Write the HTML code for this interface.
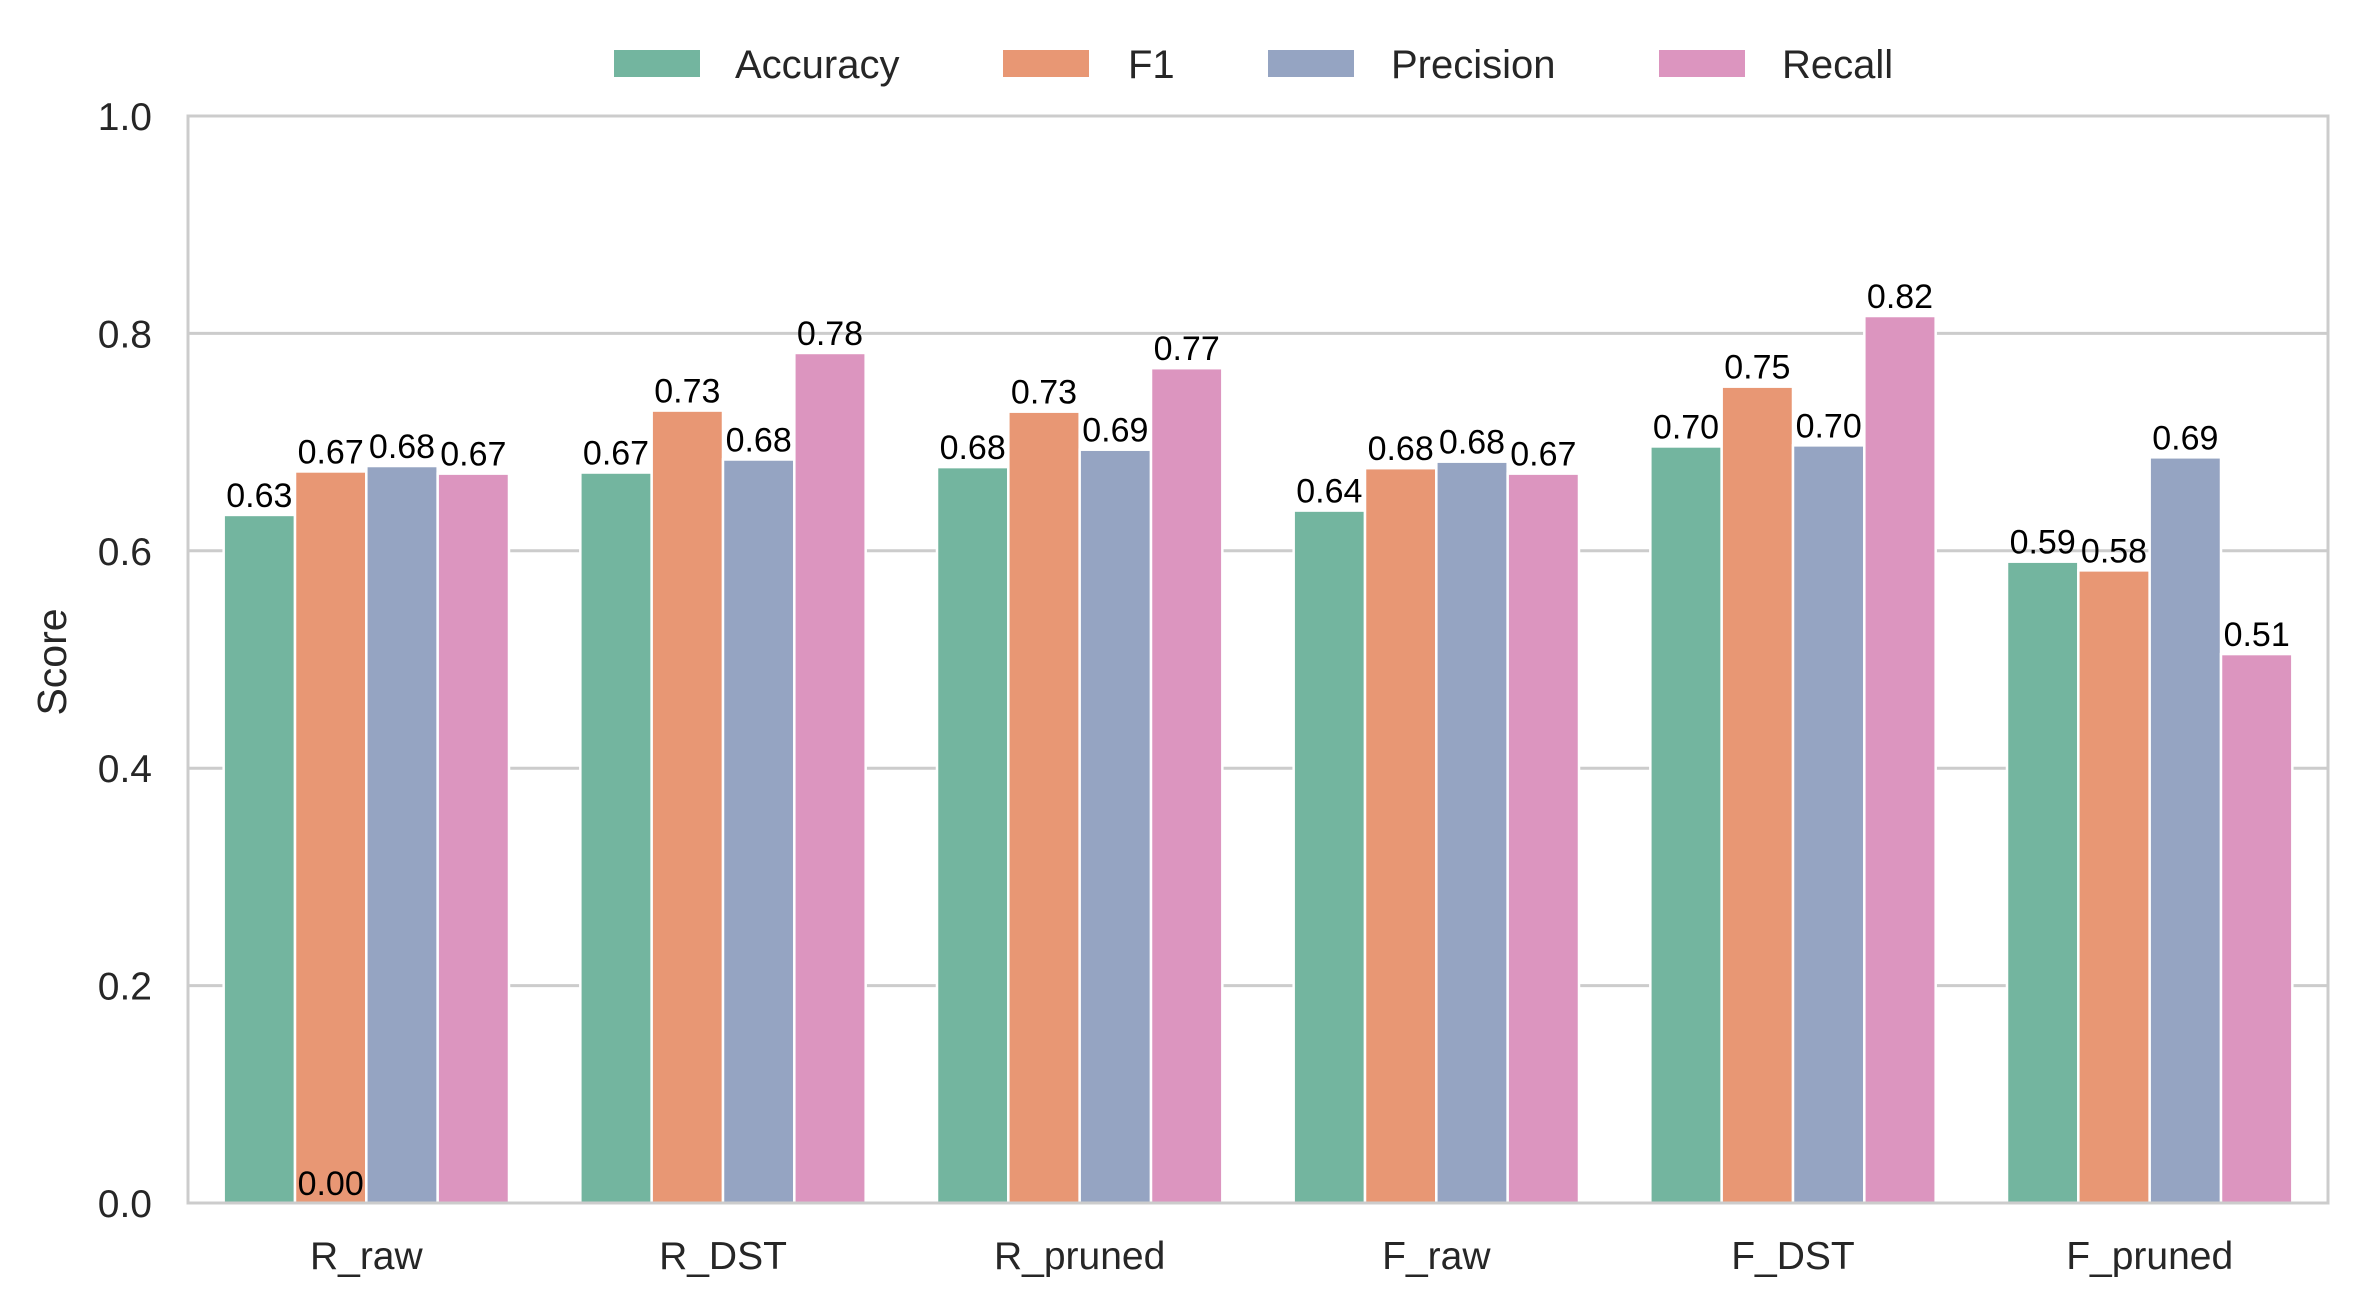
<!DOCTYPE html>
<html><head><meta charset="utf-8"><style>body{margin:0;background:#fff}svg{display:block}text{font-family:"Liberation Sans",Arial,sans-serif}</style></head>
<body>
<svg id="chart" width="2358" height="1309" xmlns="http://www.w3.org/2000/svg"></svg>
<script>
const categories = ["R_raw","R_DST","R_pruned","F_raw","F_DST","F_pruned"];
const seriesNames = ["Accuracy","F1","Precision","Recall"];
const accuracy = [0.633,0.672,0.677,0.637,0.696,0.590];
const f1 = [0.673,0.729,0.728,0.676,0.751,0.582];
const precision = [0.678,0.684,0.693,0.682,0.697,0.686];
const recall = [0.671,0.782,0.768,0.671,0.816,0.505];
const yTicks = [0,0.2,0.4,0.6,0.8,1.0];
const colors = ["#73b59f","#e89774","#95a4c2","#dc95bf"];
const series = [accuracy,f1,precision,recall];
const L=188,R=2328,T=116,B=1203;
const NS="http://www.w3.org/2000/svg";
const svg=document.getElementById('chart');
const y=v=>B-(v)*(B-T);
const step=(R-L)/categories.length;
const x=i=>L+step*(i+0.5);
function mk(tag,attrs,parent){const e=document.createElementNS(NS,tag);for(const k in attrs)e.setAttribute(k,attrs[k]);(parent||svg).appendChild(e);return e;}
yTicks.forEach(t=>{
  const g=mk('line',{x1:L,x2:R,y1:y(t),y2:y(t),stroke:'#cccccc','stroke-width':3});
  
  
  const tl=mk('text',{x:152,y:y(t)+14,'text-anchor':'end','font-size':39,fill:'#262626'});
  tl.textContent=t.toFixed(1);
  
  
});
const bw=step*0.2;
series.forEach((s,si)=>{
  s.forEach((v,ci)=>{
    const bx=x(ci)-step*0.4+si*bw;
    const r=mk('rect',{x:bx,y:y(v),width:bw,height:B-y(v),fill:colors[si],stroke:'#fff','stroke-width':2.5});
    
    
    const lb=mk('text',{x:bx+bw/2,y:y(v)-8,'text-anchor':'middle','font-size':34,fill:'#000'});
    lb.textContent=v.toFixed(2);
    
    
  });
});
{const bx=x(0)-step*0.4+bw;
 const z=mk('text',{x:bx+bw/2,y:B-8,'text-anchor':'middle','font-size':34,fill:'#000'});
 z.textContent='0.00';
 
 }
const fr=mk('rect',{x:L,y:T,width:R-L,height:B-T,fill:'none',stroke:'#cccccc','stroke-width':3});


categories.forEach((c,i)=>{
  const t=mk('text',{x:x(i),y:1269,'text-anchor':'middle','font-size':39,fill:'#262626'});
  t.textContent=c;
  
  
});
const yl=mk('text',{x:0,y:0,'text-anchor':'middle','font-size':41,fill:'#262626',transform:'translate(66,662) rotate(-90)'});
yl.textContent='Score';


const px=[614,1003,1268,1659],tx=[735,1128,1391,1782];
seriesNames.forEach((n,i)=>{
  const p=mk('rect',{x:px[i],y:50,width:86,height:27,fill:colors[i]});
  
  
  const t=mk('text',{x:tx[i],y:78,'font-size':40,fill:'#262626'});
  t.textContent=n;
  
  
});
</script>
</body></html>
